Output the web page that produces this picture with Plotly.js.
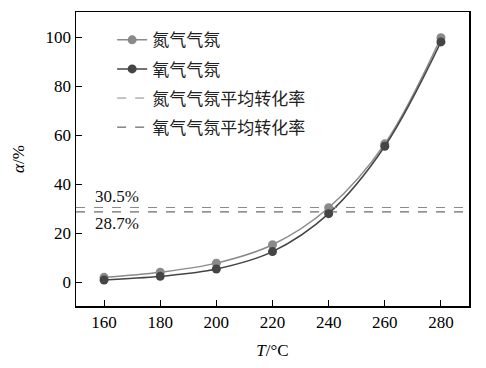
<!DOCTYPE html>
<html><head><meta charset="utf-8">
<script src="https://cdn.plot.ly/plotly-3.0.1.min.js"></script>
<style>body{margin:0;background:#fff}#c{width:486px;height:368px}</style>
</head><body><div id="c"></div>
<script>
var temps = [160, 180, 200, 220, 240, 260, 280];
var nitrogen = [2.0, 4.1, 7.8, 15.3, 30.4, 56.5, 99.8];
var oxygen = [0.9, 2.4, 5.4, 12.5, 28.0, 55.5, 98.1];
var nitrogenAvg = 30.5;
var oxygenAvg = 28.7;
var names = ["氮气气氛", "氧气气氛", "氮气气氛平均转化率", "氧气气氛平均转化率"];
var xRange = [150, 290];

var font = "Liberation Serif, Times New Roman, Noto Sans CJK SC, serif";
var traces = [
  {x: temps, y: nitrogen, name: names[0], legendgroup: "a", mode: "lines+markers",
   line: {color: "#8a8a8a", width: 1.5, shape: "spline"}, marker: {color: "#8a8a8a", size: 9}},
  {x: temps, y: oxygen, name: names[1], legendgroup: "b", mode: "lines+markers",
   line: {color: "#454545", width: 1.5, shape: "spline"}, marker: {color: "#454545", size: 9}},
  {x: xRange, y: [nitrogenAvg, nitrogenAvg], name: names[2], legendgroup: "c", mode: "lines",
   line: {color: "#8a8a8a", width: 1, dash: "dash"}},
  {x: xRange, y: [oxygenAvg, oxygenAvg], name: names[3], legendgroup: "d", mode: "lines",
   line: {color: "#454545", width: 1, dash: "dash"}}
];
var layout = {
  width: 486, height: 368,
  margin: {l: 76, r: 17, t: 12, b: 62},
  paper_bgcolor: "#fff", plot_bgcolor: "#fff",
  font: {family: font, size: 17, color: "#000"},
  showlegend: true,
  legend: {x: 0.092, y: 0.965, xanchor: "left", yanchor: "top", bgcolor: "rgba(0,0,0,0)",
           font: {family: font, size: 17, color: "#222"}, traceorder: "grouped", tracegroupgap: 4},
  xaxis: {range: xRange, tickvals: temps, ticks: "inside", ticklen: 6, tickcolor: "#000",
          showline: true, linecolor: "#000", linewidth: 1.5, mirror: true, showgrid: false, zeroline: false,
          tickfont: {family: font, size: 17},
          title: {text: "<i>T</i>/°C", font: {family: font, size: 17}, standoff: 13}},
  yaxis: {range: [-9.7, 110.3], tickvals: [0, 20, 40, 60, 80, 100], ticks: "inside", ticklen: 6, tickcolor: "#000",
          showline: true, linecolor: "#000", linewidth: 1.5, mirror: true, showgrid: false, zeroline: false,
          tickfont: {family: font, size: 17},
          title: {text: "<i>α</i>/%", font: {family: font, size: 17}, standoff: 16}},
  annotations: [
    {x: 157.5, y: nitrogenAvg, xref: "x", yref: "y", text: nitrogenAvg + "%", showarrow: false,
     xanchor: "left", yanchor: "bottom", xshift: -4, font: {family: font, size: 17, color: "#111"}},
    {x: 157.5, y: oxygenAvg, xref: "x", yref: "y", text: oxygenAvg + "%", showarrow: false,
     xanchor: "left", yanchor: "top", xshift: -4, font: {family: font, size: 17, color: "#111"}}
  ]
};
Plotly.newPlot("c", traces, layout, {displayModeBar: false, staticPlot: true});
</script></body></html>
